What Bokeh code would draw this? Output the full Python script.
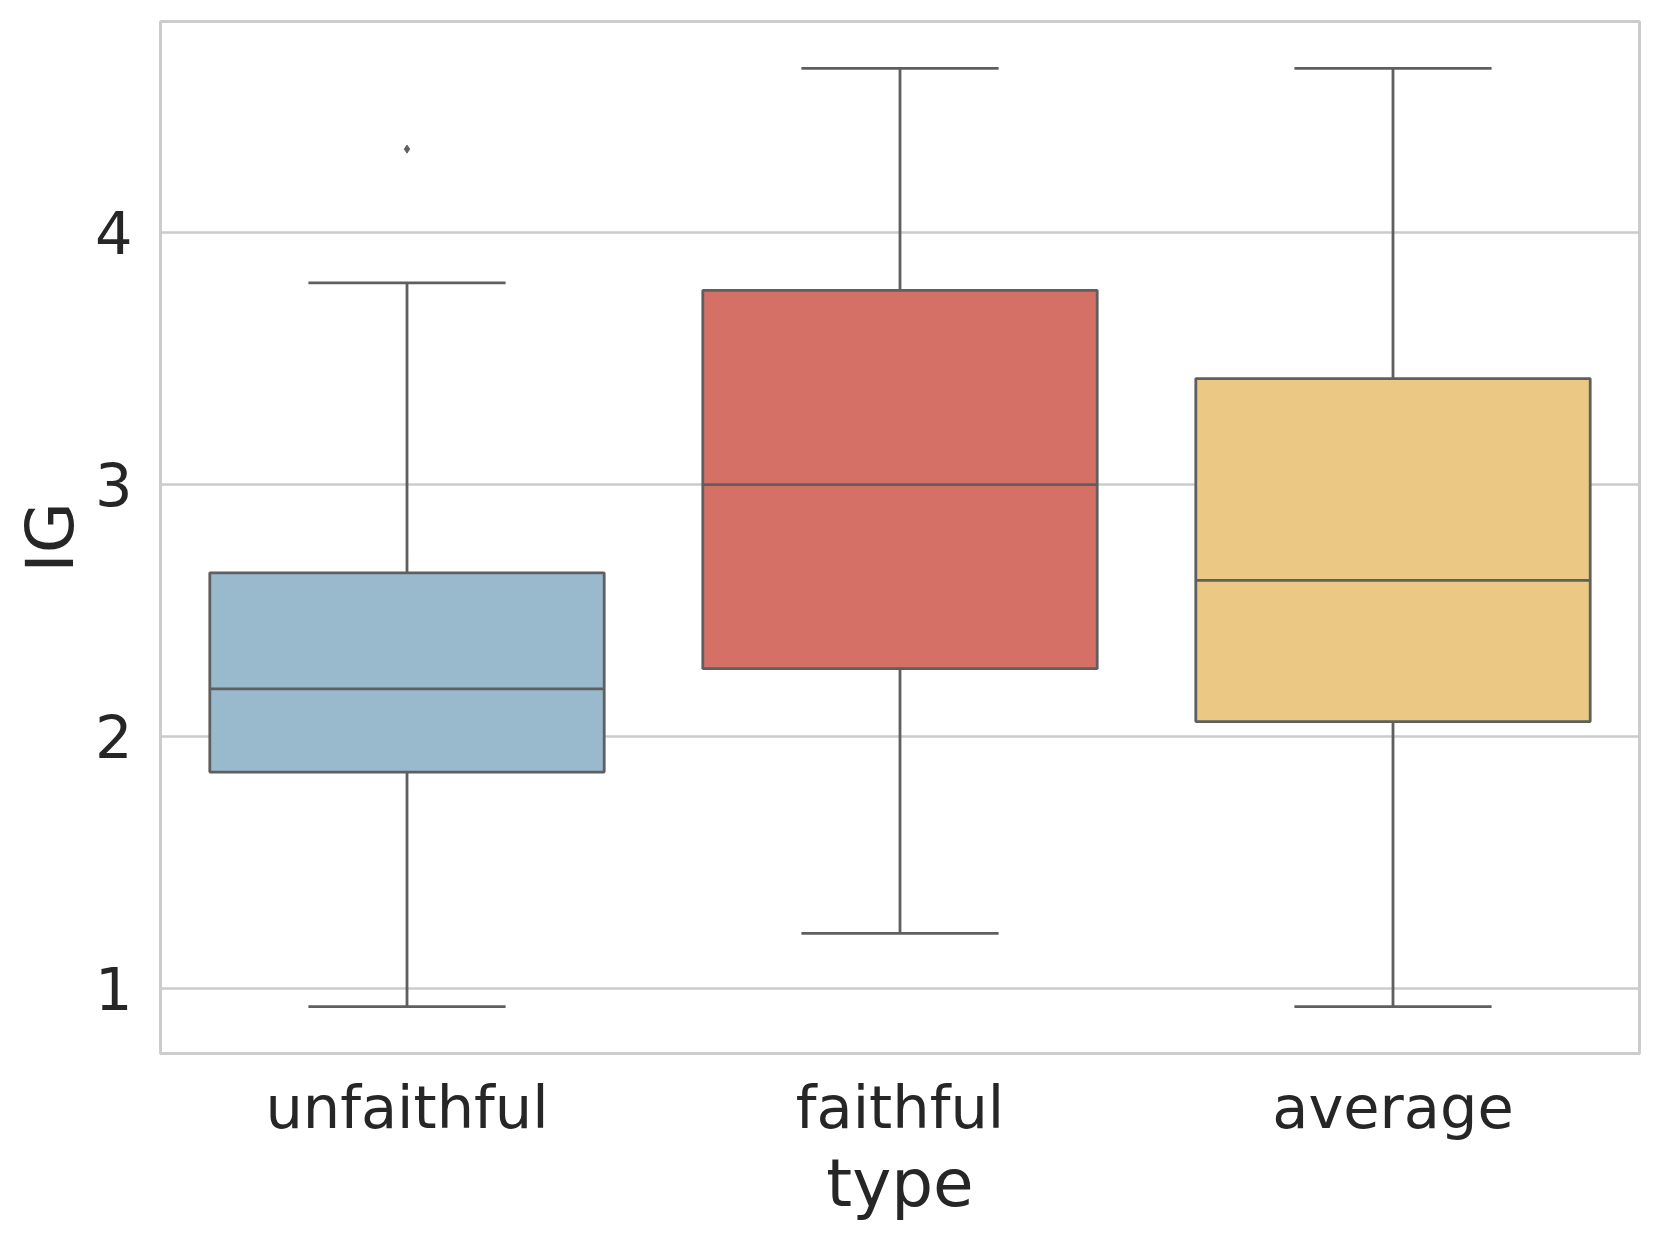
from bokeh.plotting import figure
from bokeh.models import ColumnDataSource, FactorRange, Range1d, FixedTicker
from bokeh.transform import dodge
from bokeh.embed import file_html
from bokeh.resources import INLINE

# Data
categories = ["unfaithful", "faithful", "average"]
whisker_low = [0.93, 1.22, 0.93]
q1 = [1.86, 2.27, 2.06]
median = [2.19, 3.00, 2.62]
q3 = [2.65, 3.77, 3.42]
whisker_high = [3.80, 4.65, 4.65]
colors = ["#99b9cd", "#d57067", "#ebc984"]
outlier_cat = ["unfaithful"]
outlier_val = [4.33]
y_ticks = [1, 2, 3, 4]

src = ColumnDataSource(dict(cat=categories, lo=whisker_low, q1=q1, med=median,
                            q3=q3, hi=whisker_high, color=colors))

LINE = "#5f5f5f"
TXT = "#262626"
FONT = "DejaVu Sans"

p = figure(width=1652, height=1224, output_backend="svg", toolbar_location=None,
           x_range=FactorRange(*categories, range_padding=0),
           y_range=Range1d(0.744, 4.836))
p.min_border_left = 160
p.min_border_top = 21
p.min_border_right = 13
p.min_border_bottom = 170
p.background_fill_color = "white"
p.border_fill_color = "white"
p.outline_line_color = "#cccccc"
p.outline_line_width = 3

# whiskers
p.segment(x0="cat", y0="lo", x1="cat", y1="q1", source=src, line_color=LINE, line_width=2.8)
p.segment(x0="cat", y0="q3", x1="cat", y1="hi", source=src, line_color=LINE, line_width=2.8)
# caps
p.segment(x0=dodge("cat", -0.2, range=p.x_range), y0="lo",
          x1=dodge("cat", 0.2, range=p.x_range), y1="lo",
          source=src, line_color=LINE, line_width=2.8)
p.segment(x0=dodge("cat", -0.2, range=p.x_range), y0="hi",
          x1=dodge("cat", 0.2, range=p.x_range), y1="hi",
          source=src, line_color=LINE, line_width=2.8)
# boxes
p.vbar(x="cat", width=0.8, bottom="q1", top="q3", source=src,
       fill_color="color", line_color=LINE, line_width=2.8)
# medians
p.segment(x0=dodge("cat", -0.4, range=p.x_range), y0="med",
          x1=dodge("cat", 0.4, range=p.x_range), y1="med",
          source=src, line_color=LINE, line_width=2.8)
# outliers
p.scatter(x=outlier_cat, y=outlier_val, marker="diamond", size=8,
          fill_color=LINE, line_color=LINE)

# grid
p.xgrid.visible = False
p.ygrid.grid_line_color = "#cccccc"
p.ygrid.grid_line_width = 2.5
p.ygrid.ticker = FixedTicker(ticks=y_ticks)

# axes
p.yaxis.ticker = FixedTicker(ticks=y_ticks)
for ax in (p.xaxis[0], p.yaxis[0]):
    ax.axis_line_color = None
    ax.major_tick_line_color = None
    ax.minor_tick_line_color = None
    ax.major_tick_in = 0
    ax.major_tick_out = 0
    ax.major_label_text_font = FONT
    ax.major_label_text_font_size = "59px"
    ax.major_label_text_color = TXT
    ax.axis_label_text_font = FONT
    ax.axis_label_text_font_size = "66px"
    ax.axis_label_text_font_style = "normal"
    ax.axis_label_text_color = TXT

p.xaxis.axis_label = "type"
p.yaxis.axis_label = "IG"
p.yaxis.major_label_standoff = 28
p.yaxis.axis_label_standoff = 3
p.xaxis.major_label_standoff = 19
p.xaxis.axis_label_standoff = 0

open("out.html", "w").write(file_html(p, INLINE))
